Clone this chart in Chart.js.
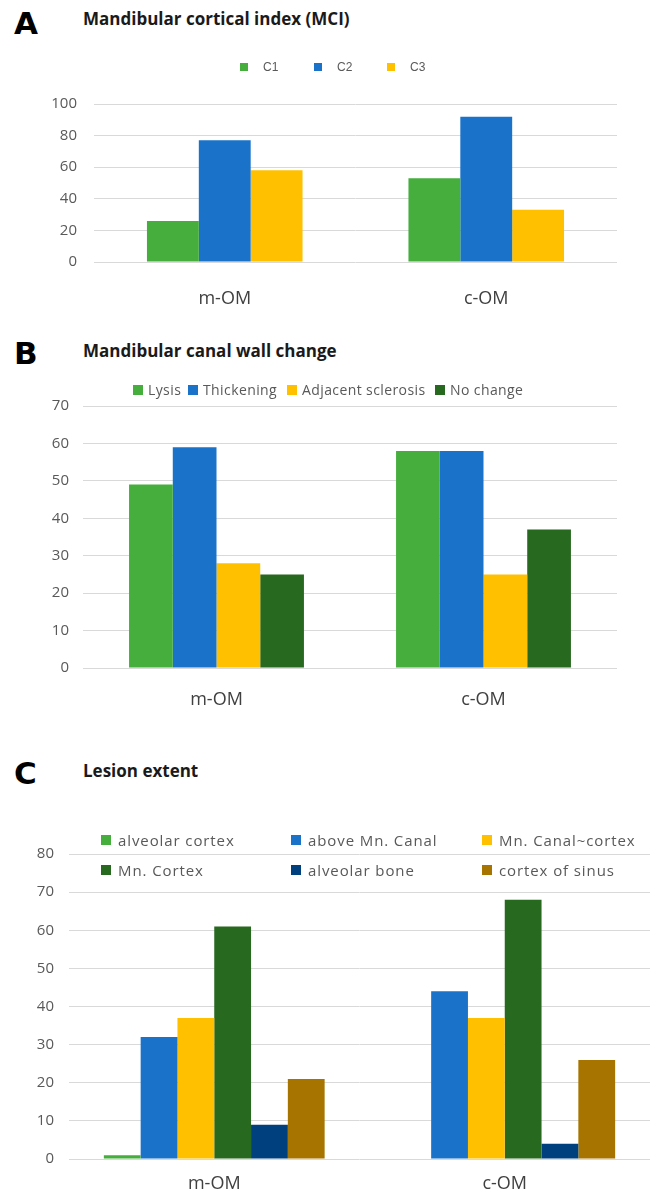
<!DOCTYPE html>
<html>
<head>
<meta charset="utf-8">
<script src="https://cdn.jsdelivr.net/npm/chart.js@4.4.1/dist/chart.umd.min.js"></script>
<style>
  body { margin: 0; background: #fff; width: 659px; height: 1196px; position: relative; overflow: hidden; }
  .letter { position: absolute; left: 14px; font: bold 31px 'DejaVu Sans', sans-serif; color: #000; line-height: 1; }
  .title { position: absolute; left: 83px; font: bold 17px 'Open Sans', sans-serif; color: #1a1a1a; line-height: 1; white-space: nowrap; }
  .box { position: absolute; left: 0; width: 659px; }
  .leg { position: absolute; white-space: nowrap; color: #595959; z-index: 2; }
  .leg span { position: absolute; display: block; }
</style>
</head>
<body>

<div class="letter" style="top:8px">A</div>
<div class="title" style="top:10px">Mandibular cortical index (MCI)</div>
<div class="box" style="top:74px;height:250px"><canvas id="chartA"></canvas></div>

<div class="letter" style="top:338px">B</div>
<div class="title" style="top:342px">Mandibular canal wall change</div>
<div class="box" style="top:376px;height:344px"><canvas id="chartB"></canvas></div>

<div class="letter" style="top:758px">C</div>
<div class="title" style="top:762px">Lesion extent</div>
<div class="box" style="top:824px;height:372px"><canvas id="chartC"></canvas></div>

<script>
// kategorije na x osi (iste za sva tri grafikona)
const categories = ['m-OM', 'c-OM'];

// A - Mandibular cortical index
const mciLabels = ['C1', 'C2', 'C3'];
const mciC1 = [26, 53];
const mciC2 = [77, 92];
const mciC3 = [58, 33];
const mciTicks = [0, 20, 40, 60, 80, 100];

// B - Mandibular canal wall change
const wallLabels = ['Lysis', 'Thickening', 'Adjacent sclerosis', 'No change'];
const wallLysis = [49, 58];
const wallThick = [59, 58];
const wallSclerosis = [28, 25];
const wallNoChange = [25, 37];
const wallTicks = [0, 10, 20, 30, 40, 50, 60, 70];

// C - Lesion extent
const extentLabels = ['alveolar cortex', 'above Mn. Canal', 'Mn. Canal~cortex', 'Mn. Cortex', 'alveolar bone', 'cortex of sinus'];
const extAlvCortex = [1, 0];
const extAboveCanal = [32, 44];
const extCanalCortex = [37, 37];
const extMnCortex = [61, 68];
const extAlvBone = [9, 4];
const extSinus = [21, 26];
const extentTicks = [0, 10, 20, 30, 40, 50, 60, 70, 80];

// boje
const GREEN = '#45ae3d', BLUE = '#1a73c9', YELLOW = '#ffc000';
const DKGREEN = '#27691f', NAVY = '#00407e', BROWN = '#a87400';

function makeBarChart(id, series, ticks, o) {
    const datasets = series.map(s => ({
        label: s.label,
        data: s.data,
        backgroundColor: s.color,
        borderWidth: 0,
        categoryPercentage: o.catPct,
        barPercentage: 1
    }));
    return new Chart(document.getElementById(id), {
        type: 'bar',
        data: { labels: categories, datasets: datasets },
        options: {
            responsive: true,
            maintainAspectRatio: false,
            animation: false,
            layout: { padding: { top: 30, right: o.right, left: 0, bottom: 0 } },
            plugins: { legend: { display: false }, tooltip: { enabled: false } },
            scales: {
                x: {
                    grid: { display: false },
                    border: { display: false },
                    ticks: { padding: o.xPad, color: '#404040', font: { family: 'Open Sans', size: 18 } },
                    afterFit: s => { s.height = o.xHeight; }  // fiksna visina x ose
                },
                y: {
                    min: ticks[0],
                    max: ticks[ticks.length - 1],
                    afterBuildTicks: axis => { axis.ticks = ticks.map(v => ({ value: v })); },
                    grid: { color: '#d9d9d9', drawTicks: false },
                    border: { display: false },
                    ticks: { padding: o.yPad, color: '#595959', font: { family: 'Open Sans', size: 15 } },
                    afterFit: s => { s.width = o.yWidth; }  // fiksna sirina y ose
                }
            }
        }
    });
}

// legenda kao html, pravi se iz istih nizova labela
function makeLegend(items, o) {
    items.forEach((it, i) => {
        const el = document.createElement('div');
        el.className = 'leg';
        el.style.left = o.xs[i] + 'px';
        el.style.top = (o.ys[i] - 10) + 'px';
        el.style.height = '20px';
        el.style.font = o.font;
        el.style.letterSpacing = o.spacing || 'normal';
        const sq = document.createElement('span');
        sq.style.left = '0px';
        sq.style.top = (10 - o.box / 2) + 'px';
        sq.style.width = o.box + 'px';
        sq.style.height = o.box + 'px';
        sq.style.background = it.color;
        const tx = document.createElement('span');
        tx.style.left = o.gap + 'px';
        tx.style.top = '0px';
        tx.style.lineHeight = '20px';
        tx.textContent = it.label;
        el.appendChild(sq);
        el.appendChild(tx);
        document.body.appendChild(el);
    });
}

const seriesA = [
    { label: mciLabels[0], data: mciC1, color: GREEN },
    { label: mciLabels[1], data: mciC2, color: BLUE },
    { label: mciLabels[2], data: mciC3, color: YELLOW }
];
const seriesB = [
    { label: wallLabels[0], data: wallLysis, color: GREEN },
    { label: wallLabels[1], data: wallThick, color: BLUE },
    { label: wallLabels[2], data: wallSclerosis, color: YELLOW },
    { label: wallLabels[3], data: wallNoChange, color: DKGREEN }
];
const seriesC = [
    { label: extentLabels[0], data: extAlvCortex, color: GREEN },
    { label: extentLabels[1], data: extAboveCanal, color: BLUE },
    { label: extentLabels[2], data: extCanalCortex, color: YELLOW },
    { label: extentLabels[3], data: extMnCortex, color: DKGREEN },
    { label: extentLabels[4], data: extAlvBone, color: NAVY },
    { label: extentLabels[5], data: extSinus, color: BROWN }
];

makeBarChart('chartA', seriesA, mciTicks, { catPct: 0.595, right: 42, yWidth: 94, yPad: 17, xHeight: 62, xPad: 18 });
makeBarChart('chartB', seriesB, wallTicks, { catPct: 0.655, right: 42, yWidth: 83, yPad: 14, xHeight: 52, xPad: 13 });
makeBarChart('chartC', seriesC, extentTicks, { catPct: 0.76, right: 9, yWidth: 69, yPad: 15, xHeight: 37, xPad: 6 });

makeLegend(seriesA, { xs: [240, 314, 387], ys: [67, 67, 67], box: 8, gap: 23, font: '12px "Liberation Sans"' });
makeLegend(seriesB, { xs: [133, 188, 287, 435], ys: [390, 390, 390, 390], box: 10, gap: 15, font: '14px "Open Sans"', spacing: '0.4px' });
makeLegend(seriesC, { xs: [101, 291, 482, 101, 291, 482], ys: [840, 840, 840, 870, 870, 870], box: 10, gap: 17, font: '15px "Open Sans"', spacing: '0.9px' });
</script>
</body>
</html>
